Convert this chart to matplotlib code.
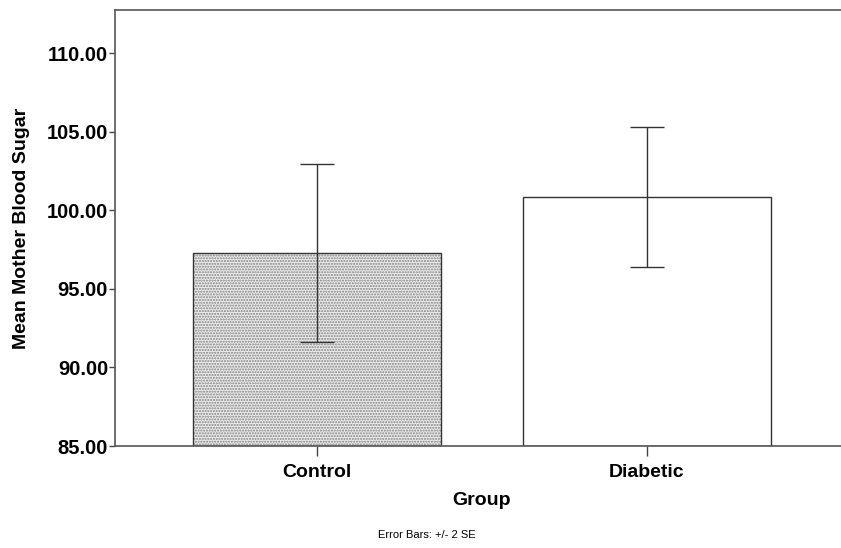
import matplotlib.pyplot as plt

# Data
groups = ['Control', 'Diabetic']
means = [97.28, 100.85]
upper = [102.92, 105.30]
lower = [91.65, 96.40]

plt.rcParams['font.family'] = ['Liberation Sans', 'DejaVu Sans']

fig = plt.figure(figsize=(8.41, 5.48), dpi=100)
W, H = 841, 548
# axes right edge runs past the figure edge like the original
ax = fig.add_axes([115 / W, (H - 446) / H, (849 - 115) / W, (446 - 10) / H])

x = list(range(len(groups)))
errs = [[m - l for m, l in zip(means, lower)], [u - m for m, u in zip(means, upper)]]

# hatched fill for Control, plain white for Diabetic
ax.bar(x[0], means[0] - 85, bottom=85, width=0.75, color='#ececec',
       hatch='......', edgecolor='#808080', linewidth=0, zorder=1)
ax.bar(x[1], means[1] - 85, bottom=85, width=0.75, color='white', linewidth=0, zorder=1)
ax.bar(x, [m - 85 for m in means], bottom=85, width=0.75, fill=False,
       edgecolor='#333333', linewidth=1.0, zorder=2)
ax.errorbar(x, means, yerr=errs, fmt='none', ecolor='#333333', elinewidth=1.0,
            capsize=12, capthick=1.0, zorder=3)

ax.set_ylim(85, 112.75)
ax.set_xlim(-0.612, 1.612)
ax.set_yticks([85, 90, 95, 100, 105, 110])
ax.set_yticklabels([f'{v:.2f}' for v in [85, 90, 95, 100, 105, 110]],
                   fontsize=14.5, fontweight='bold')
ax.set_xticks(x)
ax.set_xticklabels(groups, fontsize=14, fontweight='bold')
ax.tick_params(axis='y', length=4, width=1, color='#444444', pad=1)
ax.tick_params(axis='x', length=7, width=1, color='#444444', pad=6)

for s in ['left', 'bottom', 'top']:
    ax.spines[s].set_color('#555555')
    ax.spines[s].set_linewidth(1.2)
ax.spines['right'].set_visible(False)

ax.set_ylabel('Mean Mother Blood Sugar', fontsize=14, fontweight='bold', labelpad=12)
ax.set_xlabel('Group', fontsize=14, fontweight='bold', labelpad=8)
fig.text(427 / W, 1 - 535 / H, 'Error Bars: +/- 2 SE', fontsize=8, ha='center', va='center')

plt.savefig('out.png', dpi=100)
